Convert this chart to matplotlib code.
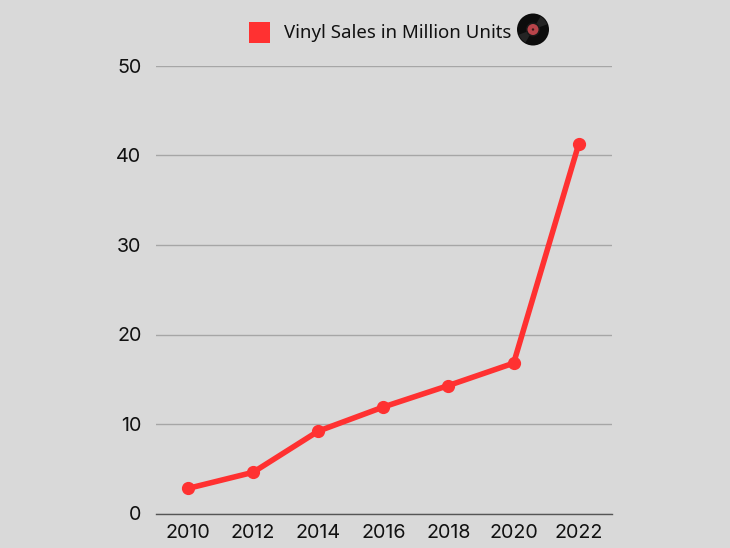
import matplotlib
matplotlib.use('Agg')
import matplotlib.pyplot as plt
from matplotlib.patches import Circle, Rectangle, Wedge

years = ['2010', '2012', '2014', '2016', '2018', '2020', '2022']
sales = [2.8, 4.6, 9.2, 11.9, 14.3, 16.8, 41.3]
yticks = [0, 10, 20, 30, 40, 50]
legend_label = 'Vinyl Sales in Million Units'

bg = '#d9d9d9'
red = '#ff3131'

plt.rcParams['font.family'] = ['Inter', 'DejaVu Sans']

fig = plt.figure(figsize=(7.30, 5.48), dpi=100, facecolor=bg)
ax = fig.add_axes([156/730, 1 - 513.5/548, (612-156)/730, (513.5-66)/548], facecolor=bg)

x = list(range(len(years)))
ax.plot(x, sales, color=red, lw=4, marker='o', ms=8.5, solid_capstyle='round', zorder=3, clip_on=False)

ax.set_xlim(-0.49, 6.51)
ax.set_ylim(0, 50)
ax.set_xticks(x)
ax.set_xticklabels(years)
ax.set_yticks(yticks)
ax.tick_params(axis='both', length=0, labelsize=14.2, labelcolor='#111111')
ax.tick_params(axis='x', pad=7.5)
ax.tick_params(axis='y', pad=10.5)
ax.grid(axis='y', color='#a6a6a6', lw=1)
ax.set_axisbelow(True)
for s in ['top', 'left', 'right']:
    ax.spines[s].set_visible(False)
ax.spines['bottom'].set_color('#555555')
ax.spines['bottom'].set_linewidth(1)

# legend pieces, placed in figure pixels
overlay = fig.add_axes([0, 0, 1, 1], facecolor='none')
overlay.set_xlim(0, 730)
overlay.set_ylim(548, 0)
overlay.axis('off')
overlay.add_patch(Rectangle((249, 22), 21, 21, color=red, lw=0))
overlay.text(284, 33, legend_label, fontsize=13.4, va='center', ha='left', color='#111111', family=['Noto Sans', 'DejaVu Sans'])

# vinyl record icon
overlay.add_patch(Circle((533, 29.5), 16, color='#0c0c0c', lw=0))
overlay.add_patch(Wedge((533, 29.5), 15, 300, 340, color='#3c3c3c', lw=0, alpha=0.5))
overlay.add_patch(Wedge((533, 29.5), 15, 120, 160, color='#3c3c3c', lw=0, alpha=0.5))
overlay.add_patch(Circle((533, 29.5), 7, color='#1a1a1a', lw=0))
overlay.add_patch(Circle((533, 29.5), 5.5, color='#b8444a', lw=0))
overlay.add_patch(Circle((533, 29.5), 1.2, color='#3a1a1a', lw=0))

fig.savefig('out.png', dpi=100, facecolor=bg)
